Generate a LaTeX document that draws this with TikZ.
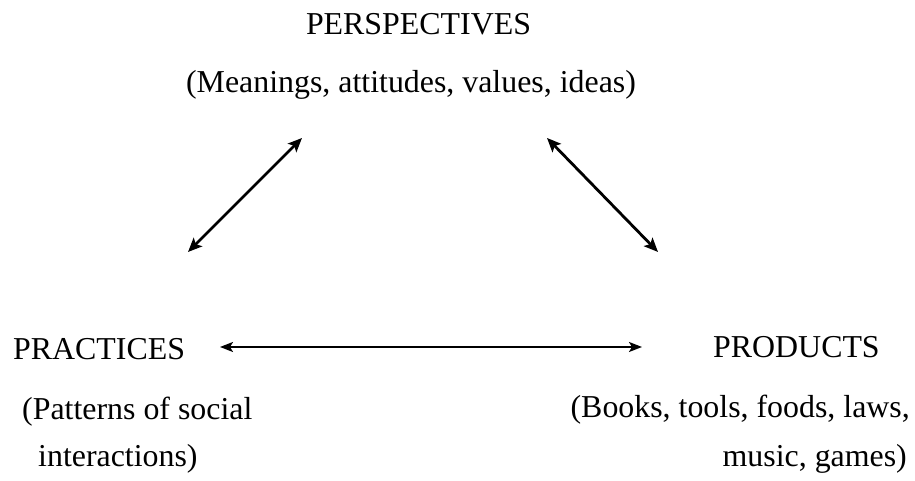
\documentclass[tikz,border=0pt]{standalone}
\usepackage{fontspec}
\setmainfont{Liberation Serif}
\usetikzlibrary{arrows.meta}
\begin{document}
\begin{tikzpicture}[x=1bp,y=1bp,
  lbl/.style={inner sep=0pt,font=\fontsize{32}{38}\selectfont},
  link/.style={line width=2.8bp,{Stealth[length=14bp,width=12bp,inset=3bp]}-{Stealth[length=14bp,width=12bp,inset=3bp]}},
  hlink/.style={line width=2bp,{Stealth[length=13bp,width=10bp,inset=3bp]}-{Stealth[length=13bp,width=10bp,inset=3bp]}}]
\useasboundingbox[fill=white] (0,0) rectangle (915,481);
% top
\node[lbl,anchor=base] (persp) at (418.5,446) {PERSPECTIVES};
\node[lbl,anchor=base] (perspd) at (411,388) {(Meanings, attitudes, values, ideas)};
% left
\node[lbl,anchor=base west] (prac) at (13,121) {PRACTICES};
\node[lbl,anchor=base west] (pracd1) at (22,61) {(Patterns of social};
\node[lbl,anchor=base west] (pracd2) at (38,14) {interactions)};
% right
\node[lbl,anchor=base west] (prod) at (713,123) {PRODUCTS};
\node[lbl,anchor=base east] (prodd1) at (910,63) {(Books, tools, foods, laws,};
\node[lbl,anchor=base east] (prodd2) at (907,14) {music, games)};
% arrow ends
\coordinate (la) at (188,229);
\coordinate (lb) at (302,343);
\coordinate (ra) at (547,343);
\coordinate (rb) at (658,229);
\coordinate (ha) at (220,134);
\coordinate (hb) at (642,134);
\draw[link] (la) -- (lb);
\draw[link] (ra) -- (rb);
\draw[hlink] (ha) -- (hb);
\end{tikzpicture}
\end{document}
